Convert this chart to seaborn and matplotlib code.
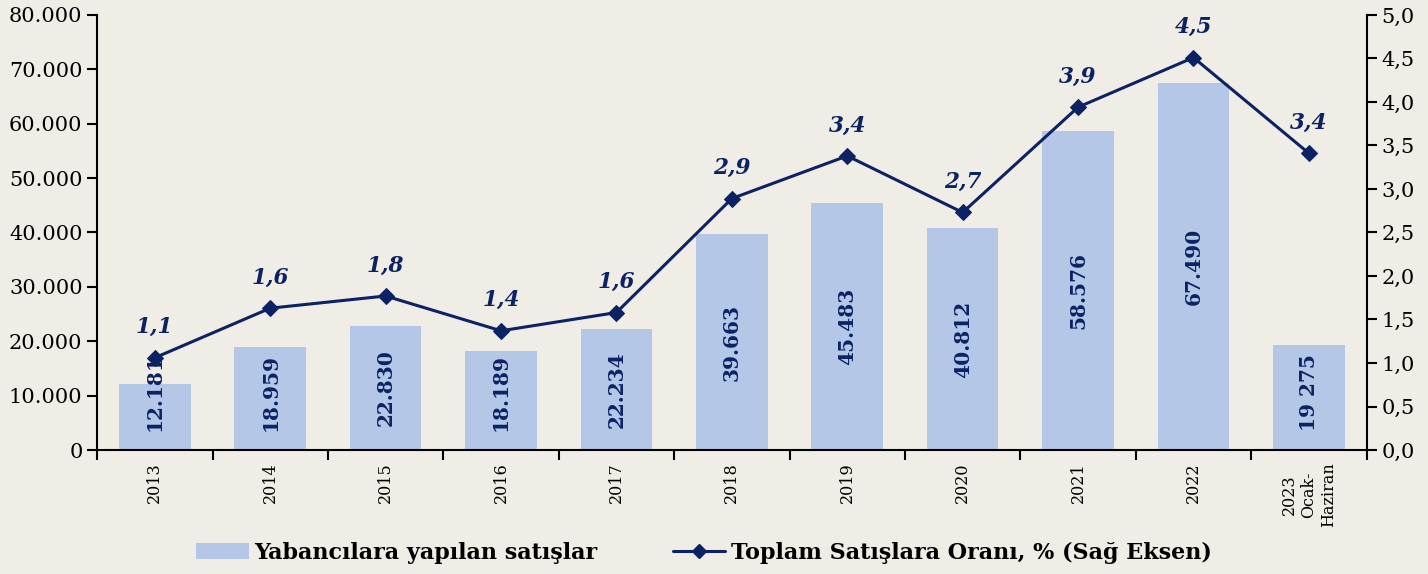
import matplotlib
matplotlib.use("Agg")
import matplotlib.pyplot as plt
import matplotlib.ticker as mticker
from matplotlib.lines import Line2D
from matplotlib.patches import Patch
import numpy as np
import pandas as pd
import seaborn as sns

# ── data ─────────────────────────────────────
years = ["2013", "2014", "2015", "2016", "2017", "2018", "2019", "2020",
         "2021", "2022", "2023\nOcak-\nHaziran"]
sales = [12181, 18959, 22830, 18189, 22234, 39663, 45483, 40812,
         58576, 67490, 19275]
sales_labels = ["12.181", "18.959", "22.830", "18.189", "22.234", "39.663",
                "45.483", "40.812", "58.576", "67.490", "19 275"]
share = [1.06, 1.63, 1.77, 1.37, 1.58, 2.89, 3.38, 2.73, 3.94, 4.51, 3.41]

BG = "#F0EDE6"
BAR = "#B4C7E7"
NAVY = "#0B2265"

sns.set_theme(style="white")
plt.rcParams["font.family"] = ["DejaVu Serif"]
plt.rcParams["text.color"] = "black"
plt.rcParams["xtick.color"] = "black"
plt.rcParams["ytick.color"] = "black"

df = pd.DataFrame({"year": years, "sales": sales, "share": share})

fig = plt.figure(figsize=(14.28, 5.74), dpi=100, facecolor=BG)
ax = fig.add_axes([0.068, 0.216, 0.889, 0.758], facecolor=BG)

sns.barplot(data=df, x="year", y="sales", color=BAR, width=0.62,
            saturation=1, linewidth=0, ax=ax)

for i, (v, lab) in enumerate(zip(sales, sales_labels)):
    ax.text(i, max(v / 2, 10500), lab, rotation=90, ha="center", va="center",
            color=NAVY, fontsize=14.5, fontweight="bold")

ax.set_ylim(0, 80000)
ax.set_xlim(-0.5, len(years) - 0.5)
ax.yaxis.set_major_locator(mticker.MultipleLocator(10000))
ax.yaxis.set_major_formatter(mticker.FuncFormatter(
    lambda v, p: f"{int(v):,}".replace(",", ".")))
ax.set_xlabel("")
ax.set_ylabel("")
ax.set_xticks(range(len(years)))
ax.set_xticklabels(years, rotation=90, va="top", ha="center",
                   multialignment="center", fontsize=11.5)
ax.set_xticks(np.arange(-0.5, len(years)), minor=True)
ax.tick_params(axis="x", which="major", length=0, pad=9)
ax.tick_params(axis="x", which="minor", length=7, width=1.5, direction="out",
               bottom=True)
ax.tick_params(axis="y", length=7, width=1.5, direction="out", left=True,
               labelsize=15)

ax2 = ax.twinx()
sns.lineplot(x=np.arange(len(share)), y=share, color=NAVY, linewidth=2.2,
             marker="D", markersize=8, markeredgecolor=NAVY, ax=ax2)
for i, v in enumerate(share):
    ax2.annotate(f"{v:.1f}".replace(".", ","), (i, v), xytext=(0, 22),
                 textcoords="offset points", ha="center", va="center",
                 color=NAVY, fontsize=15.5, fontweight="bold", style="italic")
ax2.set_ylim(0, 5)
ax2.yaxis.set_major_locator(mticker.MultipleLocator(0.5))
ax2.yaxis.set_major_formatter(mticker.FuncFormatter(
    lambda v, p: f"{v:.1f}".replace(".", ",")))
ax2.tick_params(axis="y", length=7, width=1.5, direction="out", right=True,
                labelsize=15)

for a in (ax, ax2):
    a.spines["top"].set_visible(False)
    for s in ("left", "right", "bottom"):
        a.spines[s].set_color("black")
        a.spines[s].set_linewidth(1.5)
ax.spines["right"].set_visible(False)
ax2.spines["left"].set_visible(False)
ax2.spines["bottom"].set_visible(False)

handles = [Patch(facecolor=BAR, edgecolor="none"),
           Line2D([0], [0], color=NAVY, linewidth=2.2, marker="D",
                  markersize=7)]
fig.legend(handles, ["Yabancılara yapılan satışlar",
                     "Toplam Satışlara Oranı, % (Sağ Eksen)"],
           loc="center", bbox_to_anchor=(0.493, 0.037), ncol=2, frameon=False,
           prop={"weight": "bold", "size": 16}, handlelength=2.35,
           columnspacing=3.4, handletextpad=0.25, labelcolor="black")

fig.savefig("out.png", dpi=100, facecolor=BG)
